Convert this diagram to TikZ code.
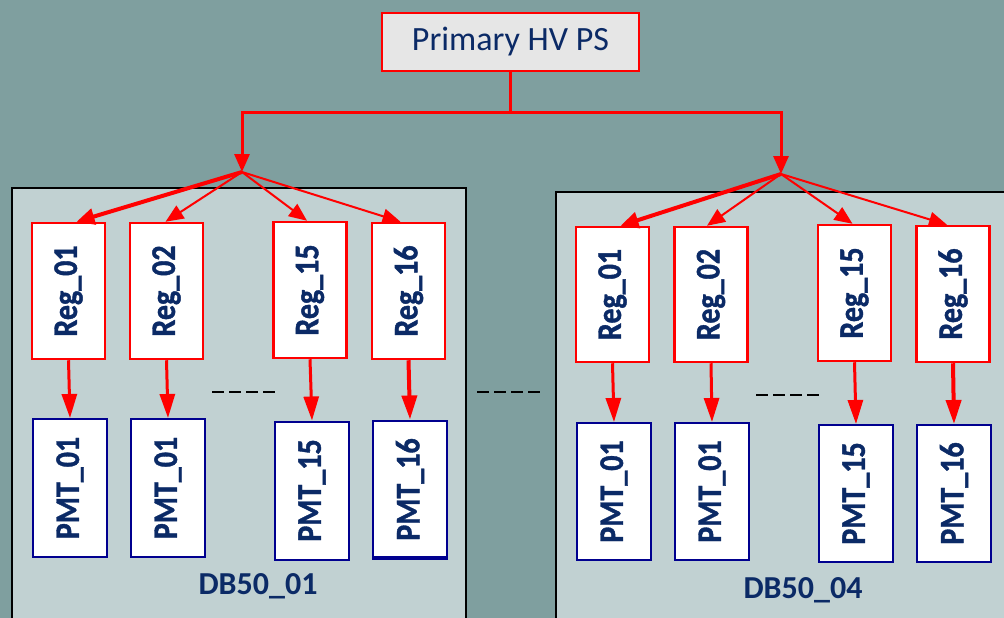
\documentclass[tikz,border=0pt]{standalone}
\usepackage{fontspec}
\usepackage{graphicx}
\setmainfont{Carlito}
\newfontfamily\boxfont{Carlito}[BoldFeatures={FakeBold=1.2}]
\usetikzlibrary{arrows.meta}
\definecolor{bgteal}{HTML}{7F9F9F}
\definecolor{panelfill}{HTML}{C1D1D2}
\definecolor{navy}{HTML}{0B2A66}
\definecolor{pmtblue}{HTML}{00008F}
\definecolor{psfill}{HTML}{E6E6E6}
\tikzset{
  panel/.style={draw=black, line width=2pt, fill=panelfill},
  psbox/.style={draw=red, line width=2.5pt, fill=psfill, text=navy,
    minimum width=257pt, minimum height=58pt, inner sep=0pt,
    font=\fontsize{34}{34}\selectfont},
  regbox/.style={draw=red, line width=2.5pt, fill=white, text=navy,
    minimum width=73pt, minimum height=136pt, inner sep=0pt,
    font=\boxfont\fontsize{30}{30}\selectfont\bfseries},
  pmtbox/.style={draw=pmtblue, line width=2pt, fill=white, text=navy,
    minimum width=74pt, minimum height=138pt, inner sep=0pt,
    font=\boxfont\fontsize{30}{30}\selectfont\bfseries},
  dblabel/.style={text=navy, font=\fontsize{32}{32}\selectfont\bfseries},
  feed/.style={draw=red, line width=3pt},
  fan/.style={draw=red, line width=2pt, -{Triangle[length=18pt,width=15pt]}},
  fanbold/.style={draw=red, line width=4pt, -{Triangle[length=18pt,width=16pt]}},
  drop/.style={draw=red, line width=3pt, -{Triangle[length=24pt,width=15pt]}},
  gap/.style={draw=black, line width=2.5pt, dash pattern=on 12pt off 5pt},
}
% upright labels set sideways, with slightly tall letters
\newcommand{\vlabel}[1]{\rotatebox{90}{\scalebox{1}[1.15]{#1}}}
\begin{document}
\begin{tikzpicture}[x=1pt,y=-1pt]
\useasboundingbox (0,0) rectangle (1004,618);
\fill[bgteal] (0,0) rectangle (1004,618);

\begin{scope}
\clip (0,0) rectangle (1004,618);
% the two distribution boards
\path[panel] (12,188) rectangle (466,640);
\path[panel] (556,192) rectangle (1030,640);
\end{scope}

% primary supply
\node[psbox] (ps) at (510.5,42) {Primary HV PS};

% branching points
\coordinate (bl) at (242,112);
\coordinate (br) at (781,112);
\coordinate (jl) at (242,172);
\coordinate (jr) at (781,174);

% board DB50_01 regulators
\node[regbox] (lr1)  at (68.5,291) {\vlabel{Reg\_01}};
\node[regbox] (lr2)  at (166.5,291) {\vlabel{Reg\_02}};
\node[regbox] (lr15) at (310,290) {\vlabel{Reg\_15}};
\node[regbox] (lr16) at (408.5,291) {\vlabel{Reg\_16}};
% board DB50_01 PMTs
\node[pmtbox] (lp1)  at (70,488) {\vlabel{PMT\_01}};
\node[pmtbox] (lp2)  at (168,488) {\vlabel{PMT\_01}};
\node[pmtbox] (lp15) at (312,490.5) {\vlabel{PMT\_15}};
\node[pmtbox] (lp16) at (410,489.5) {\vlabel{PMT\_16}};
\draw[draw=pmtblue, line width=2pt] ([yshift=3pt]lp16.south west) -- ([yshift=3pt]lp16.south east);

% board DB50_04 regulators
\node[regbox, minimum height=135pt] (rr1)  at (612.5,294.5) {\vlabel{Reg\_01}};
\node[regbox, minimum height=135pt] (rr2)  at (711,294.5) {\vlabel{Reg\_02}};
\node[regbox] (rr15) at (854.5,293) {\vlabel{Reg\_15}};
\node[regbox] (rr16) at (953,294) {\vlabel{Reg\_16}};
% board DB50_04 PMTs
\node[pmtbox, minimum height=137pt] (rp1)  at (614,491.5) {\vlabel{PMT\_01}};
\node[pmtbox, minimum height=137pt] (rp2)  at (712,491.5) {\vlabel{PMT\_01}};
\node[pmtbox, minimum height=137pt] (rp15) at (856,493.5) {\vlabel{PMT\_15}};
\node[pmtbox, minimum height=137pt] (rp16) at (954,493.5) {\vlabel{PMT\_16}};

% board names
\node[dblabel] (db1) at (258,586) {DB50\_01};
\node[dblabel] (db4) at (803,590) {DB50\_04};

% feed from the primary supply
\draw[feed] (ps.south) -- (ps.south |- bl);
\draw[feed, line cap=rect] (bl) -- (br);
\draw[feed, -{Triangle[length=18pt,width=15pt]}] (bl) -- (jl);
\draw[feed, -{Triangle[length=18pt,width=15pt]}] (br) -- (jr);

% fan-out to the regulators
\draw[fanbold] (jl) -- ([xshift=8pt]lr1.north);
\draw[fan] (jl) -- ([xshift=-1pt]lr2.north);
\draw[fan] (jl) -- ([xshift=-3pt]lr15.north);
\draw[fan] (jl) -- ([xshift=-8pt]lr16.north);
\draw[fanbold] (jr) -- ([xshift=8pt]rr1.north);
\draw[fan] (jr) -- ([xshift=-4pt]rr2.north);
\draw[fan] (jr) -- ([xshift=-2pt]rr15.north);
\draw[fan] (jr) -- ([xshift=-6pt]rr16.north);

% regulators to PMTs
\draw[drop] (lr1.south) -- (lp1.north);
\draw[drop] (lr2.south) -- (lp2.north);
\draw[drop] (lr15.south) -- (lp15.north);
\draw[drop, line width=4pt] (lr16.south) -- (lp16.north);
\draw[drop] (rr1.south) -- (rp1.north);
\draw[drop] (rr2.south) -- (rp2.north);
\draw[drop] (rr15.south) -- (rp15.north);
\draw[drop, line width=4pt] (rr16.south) -- (rp16.north);

% omitted channels and boards
\coordinate (g1a) at (212,392);
\coordinate (g1b) at (275,392);
\coordinate (g2a) at (477,392);
\coordinate (g2b) at (540,392);
\coordinate (g3a) at (756,395);
\coordinate (g3b) at (819,395);
\draw[gap] (g1a) -- (g1b);
\draw[gap] (g2a) -- (g2b);
\draw[gap] (g3a) -- (g3b);
\end{tikzpicture}
\end{document}
